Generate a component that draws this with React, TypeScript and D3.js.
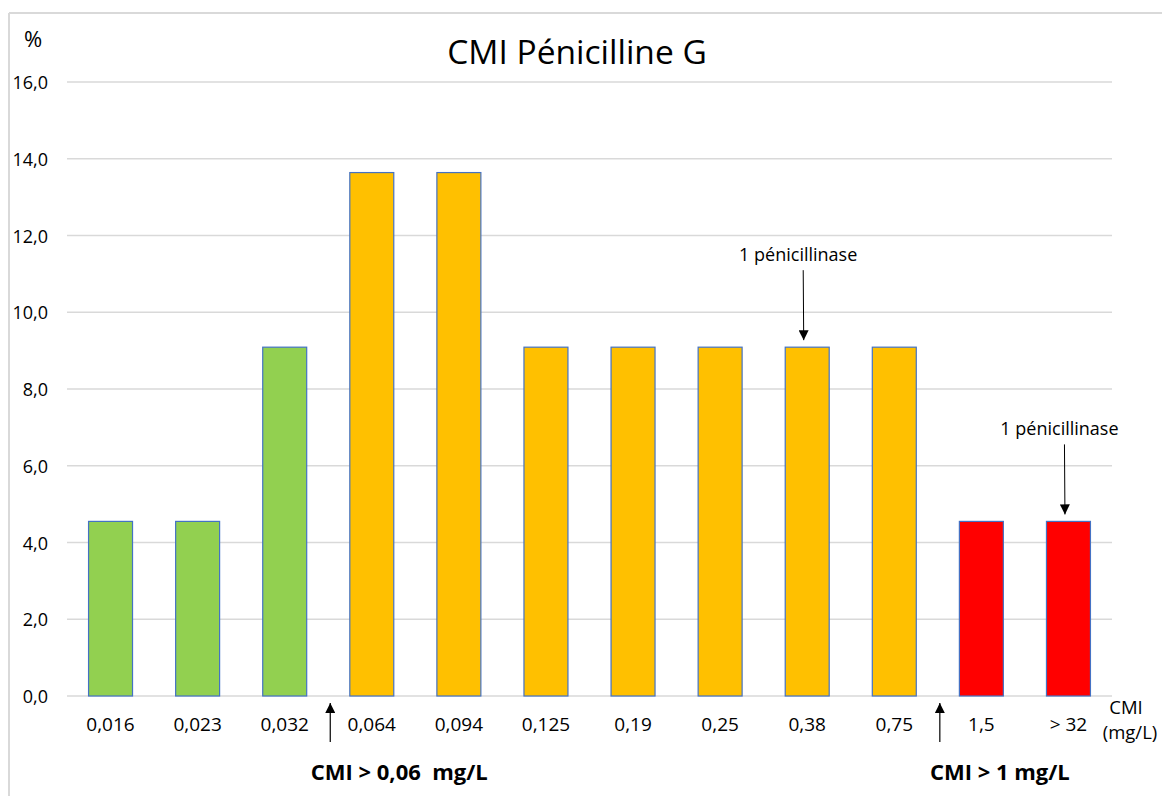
import React from "react";
import * as d3 from "d3";

const categories = ["0,016", "0,023", "0,032", "0,064", "0,094", "0,125", "0,19", "0,25", "0,38", "0,75", "1,5", "> 32"];
const values = [4.55, 4.55, 9.09, 13.64, 13.64, 9.09, 9.09, 9.09, 9.09, 9.09, 4.55, 4.55];
const groups = ["S", "S", "S", "I", "I", "I", "I", "I", "I", "I", "R", "R"];
const yTicks = [0, 2, 4, 6, 8, 10, 12, 14, 16];
const annotations = [
  { cat: "0,38", text: "1 pénicillinase" },
  { cat: "> 32", text: "1 pénicillinase" },
];
const thresholds = [
  { after: "0,032", text: "CMI > 0,06  mg/L", dx: 69 },
  { after: "0,75", text: "CMI > 1 mg/L", dx: 60 },
];

const W = 1162;
const H = 796;
const FONT = "'Open Sans', 'Noto Sans', sans-serif";
const colors: Record<string, string> = { S: "#92D050", I: "#FFC000", R: "#FF0000" };

export default function App() {
  const x = d3
    .scaleBand<string>()
    .domain(categories)
    .range([67, 1112])
    .paddingInner(0.495)
    .paddingOuter(0.2475);
  const step = x.step();
  const y = d3.scaleLinear().domain([0, 16]).range([696, 82]);
  const fmt = (v: number) => v.toFixed(1).replace(".", ",");
  const cx = (c: string) => (x(c) ?? 0) + x.bandwidth() / 2;

  return (
    <svg width={W} height={H} style={{ position: "absolute", left: 0, top: 0 }} fontFamily={FONT}>
      <defs>
        <marker id="ah" viewBox="0 0 10 10" refX="10" refY="5" markerWidth="11" markerHeight="10" markerUnits="userSpaceOnUse" orient="auto">
          <path d="M0,0 L10,5 L0,10 z" fill="#000" />
        </marker>
      </defs>
      <rect x={0} y={0} width={W} height={H} fill="#fff" />
      <line x1={9} x2={W} y1={13} y2={13} stroke="#D9D9D9" strokeWidth={2} />
      <line x1={9} x2={9} y1={13} y2={H} stroke="#D9D9D9" strokeWidth={2} />

      <text x={577} y={64} textAnchor="middle" fontSize={33.5} fill="#000">CMI Pénicilline G</text>
      <text x={33} y={47} textAnchor="middle" fontSize={22} fill="#000">%</text>

      {yTicks.map((t) => (
        <g key={t}>
          <line x1={67} x2={1112} y1={y(t)} y2={y(t)} stroke="#D9D9D9" strokeWidth={1.5} />
          <text x={48} y={y(t) + 7} textAnchor="end" fontSize={18} fill="#000">{fmt(t)}</text>
        </g>
      ))}

      {categories.map((c, i) => (
        <rect
          key={c}
          x={x(c)}
          y={y(values[i])}
          width={x.bandwidth()}
          height={y(0) - y(values[i])}
          fill={colors[groups[i]]}
          stroke="#4472C4"
          strokeWidth={1.2}
        />
      ))}

      {categories.map((c) => (
        <text key={c} x={cx(c)} y={730.5} textAnchor="middle" fontSize={19} fill="#000">{c}</text>
      ))}

      <text x={1126} y={714} textAnchor="middle" fontSize={18.5} fill="#000">CMI</text>
      <text x={1130} y={739} textAnchor="middle" fontSize={18.5} fill="#000">(mg/L)</text>

      {annotations.map((a, i) => {
        const idx = categories.indexOf(a.cat);
        const top = y(values[idx]);
        const ax = cx(a.cat) - 4;
        return (
          <g key={i}>
            <text x={ax - 5} y={top - 86} textAnchor="middle" fontSize={18} fill="#000">{a.text}</text>
            <line x1={ax} x2={ax + 0.5} y1={top - 77} y2={top - 7} stroke="#000" strokeWidth={1} markerEnd="url(#ah)" />
          </g>
        );
      })}

      {thresholds.map((t, i) => {
        const ax = (x(t.after) ?? 0) + x.bandwidth() + (step - x.bandwidth()) / 2 + 2;
        return (
          <g key={i}>
            <line x1={ax} x2={ax} y1={742} y2={703} stroke="#000" strokeWidth={1.2} markerEnd="url(#ah)" />
            <text x={ax + t.dx} y={780} textAnchor="middle" fontSize={22} fontWeight="bold" fill="#000" style={{ whiteSpace: "pre" }}>{t.text}</text>
          </g>
        );
      })}
    </svg>
  );
}
